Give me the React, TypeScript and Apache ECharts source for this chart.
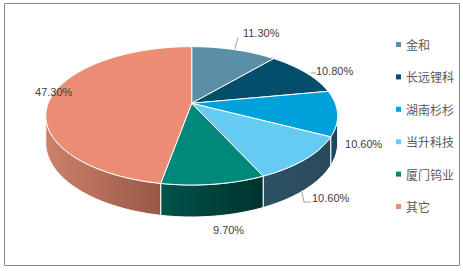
import React, { useEffect, useRef } from "react";
import * as echarts from "echarts";

const categories = ["金和", "长远锂科", "湖南杉杉", "当升科技", "厦门钨业", "其它"];
const values = [11.3, 10.8, 10.6, 10.6, 9.7, 47.3];

// styles (not data)
const topColors = ["#5b8fa7", "#034e6b", "#00a0da", "#66cbf2", "#00897b", "#ea8d74"];
const wallColors: [string, string][] = [
  ["#3d6578", "#34586a"],
  ["#02364b", "#022d3f"],
  ["#1d4b63", "#1a455b"],
  ["#2e5164", "#2a4a5c"],
  ["#00534b", "#00332e"],
  ["#cc826b", "#985745"],
];
// label placement relative to rim midpoint (layout)
const labelOffsets: [number, number][] = [
  [8.7, -16.7],
  [10.3, -1.6],
  [7.5, 30.7],
  [6.4, 39],
  [-0.6, 45.8],
  [-16, -5.6],
];
// leader lines relative to label left/middle anchor (layout)
const leaders: [number, number][][] = [
  [[-8, 16], [-5, 5]],
  [[-5, 2], [0, 2]],
  [],
  [[-10, -6], [-8, 4], [-1, 4]],
  [],
  [],
];

// perspective geometry
const CX = 191.7, CY = 103.3, A = 143.5, B = 66.9, K = 0.181, DEPTH = 26.2;
const proj = (deg: number) => {
  const r = (deg * Math.PI) / 180;
  const X = Math.sin(r), Z = Math.cos(r);
  const d = 1 + K * Z;
  return { x: CX + (A * X) / d, y: CY - (B * Z) / d, depth: DEPTH / d };
};
const PHI_S = (Math.acos(-K) * 180) / Math.PI;

export default function App() {
  const ref = useRef<HTMLDivElement>(null);
  useEffect(() => {
    if (!ref.current) return;
    const chart = echarts.init(ref.current, null, { renderer: "svg" });
    const total = values.reduce((a, b) => a + b, 0);
    const starts: number[] = [];
    let acc = 0;
    values.forEach((v) => {
      starts.push(acc);
      acc += v;
    });

    const makeRender = (i: number) => (params: any, api: any) => {
      const v = api.value(0);
      const a0 = (starts[i] / total) * 360;
      const a1 = a0 + (v / total) * 360;
      const children: any[] = [];
      // wall
      const lo = Math.max(a0, PHI_S);
      const hi = Math.min(a1, 360 - PHI_S);
      if (hi > lo) {
        const topPts: number[][] = [];
        const botPts: number[][] = [];
        const n = Math.max(2, Math.ceil(hi - lo));
        for (let k = 0; k <= n; k++) {
          const p = proj(lo + ((hi - lo) * k) / n);
          topPts.push([p.x, p.y]);
          botPts.push([p.x, p.y + p.depth]);
        }
        children.push({
          type: "polygon",
          shape: { points: topPts.concat(botPts.reverse()) },
          style: {
            fill: new echarts.graphic.LinearGradient(0, 0, 1, 0, [
              { offset: 0, color: wallColors[i][0] },
              { offset: 1, color: wallColors[i][1] },
            ]),
            stroke: "#ffffff",
            lineWidth: 1,
          },
        });
      }
      // top face
      const pts: number[][] = [[CX, CY]];
      const n = Math.max(2, Math.ceil(a1 - a0));
      for (let k = 0; k <= n; k++) {
        const p = proj(a0 + ((a1 - a0) * k) / n);
        pts.push([p.x, p.y]);
      }
      children.push({
        type: "polygon",
        shape: { points: pts },
        style: { fill: topColors[i], stroke: "#ffffff", lineWidth: 1 },
      });
      // label
      const mid = proj((a0 + a1) / 2);
      const lx = mid.x + labelOffsets[i][0];
      const ly = mid.y + labelOffsets[i][1];
      if (leaders[i].length) {
        children.push({
          type: "polyline",
          shape: { points: leaders[i].map((q) => [lx + q[0], ly + q[1]]) },
          style: { stroke: "#a6a6a6", fill: "none", lineWidth: 1 },
        });
      }
      children.push({
        type: "text",
        x: lx,
        y: ly,
        style: {
          text: v.toFixed(2) + "%",
          fill: "#404040",
          fontSize: 11,
          fontFamily: "Liberation Sans, Arial, sans-serif",
          align: "left",
          verticalAlign: "middle",
        },
      });
      return { type: "group", children };
    };

    chart.setOption({
      animation: false,
      backgroundColor: "#ffffff",
      legend: {
        orient: "vertical",
        left: 391,
        top: 32.5,
        itemWidth: 5,
        itemHeight: 5,
        itemGap: 18.4,
        icon: "rect",
        data: categories,
        textStyle: {
          fontSize: 12,
          lineHeight: 14,
          color: "#595959",
          fontFamily: "Noto Sans CJK SC, sans-serif",
        },
        selectedMode: false,
      },
      graphic: [
        {
          type: "rect",
          shape: { x: 4.5, y: 3.5, width: 455, height: 262 },
          style: { fill: "none", stroke: "#8a8a8a", lineWidth: 1 },
          silent: true,
        },
      ],
      series: categories.map((c, i) => ({
        type: "custom",
        name: c,
        coordinateSystem: "none",
        silent: true,
        itemStyle: { color: topColors[i] },
        renderItem: makeRender(i),
        data: [[values[i]]],
      })),
    });
    return () => chart.dispose();
  }, []);
  return (
    <div
      ref={ref}
      style={{ position: "absolute", left: 0, top: 0, width: 463, height: 271 }}
    />
  );
}
